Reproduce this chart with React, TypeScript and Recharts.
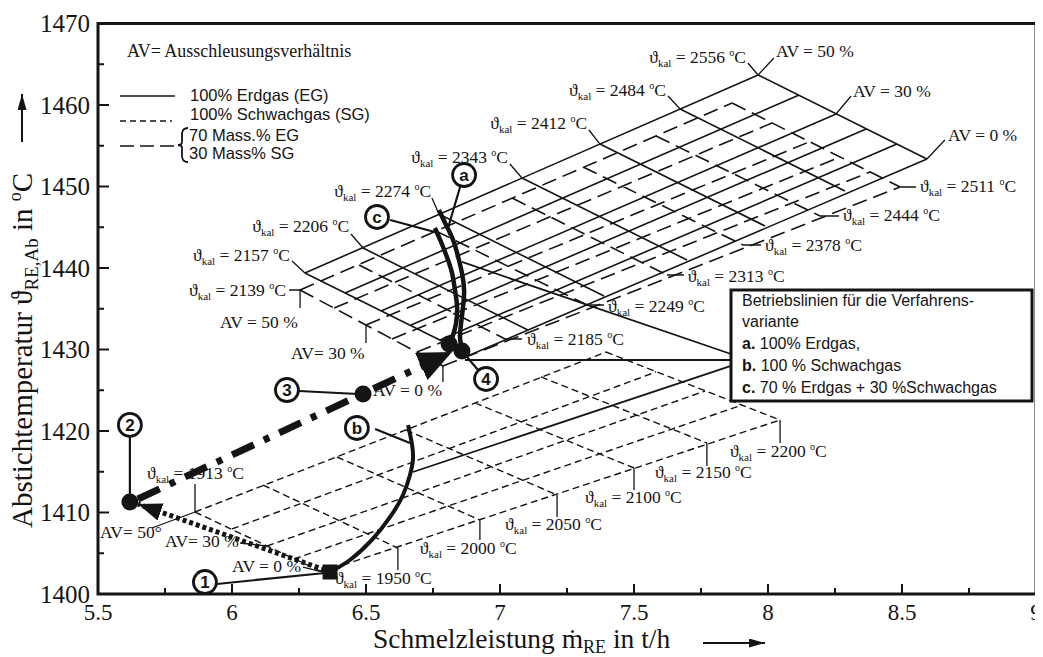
import React from "react";
import { ComposedChart, Line, Scatter, XAxis, YAxis, ReferenceArea } from "recharts";

const SERIF = "'Liberation Serif', 'Times New Roman', 'DejaVu Serif', serif";
const SANS = "'Liberation Sans', Arial, sans-serif";
const INK = "#141414";

const xTicks = [5.5, 5.75, 6, 6.25, 6.5, 6.75, 7, 7.25, 7.5, 7.75, 8, 8.25, 8.5, 8.75, 9];
const yTicks = [1400, 1405, 1410, 1415, 1420, 1425, 1430, 1435, 1440, 1445, 1450, 1455, 1460, 1465, 1470];

// mesh lines as [x1, y1, x2, y2]
// 100% Erdgas (solid)
const gridEG = [
  [6.272, 1439.39, 7.963, 1463.68],
  [6.422, 1436.93, 8.116, 1461.23],
  [6.556, 1434.72, 8.254, 1458.9],
  [6.668, 1433.01, 8.366, 1457.06],
  [6.776, 1431.17, 8.481, 1455.21],
  [6.888, 1429.33, 8.593, 1453.37],
  [6.272, 1439.39, 6.888, 1429.33],
  [6.489, 1442.45, 7.104, 1432.39],
  [6.772, 1446.63, 7.388, 1436.56],
  [7.082, 1451.04, 7.698, 1440.98],
  [7.373, 1455.21, 7.989, 1445.15],
  [7.672, 1459.51, 8.287, 1449.45],
  [7.963, 1463.68, 8.593, 1453.37],
];

// 70 % EG + 30 % SG (long dash)
const gridMix = [
  [6.254, 1437.3, 7.866, 1460.25],
  [6.381, 1435.09, 8.015, 1457.79],
  [6.5, 1433.01, 8.153, 1455.46],
  [6.597, 1431.29, 8.269, 1453.62],
  [6.69, 1429.69, 8.381, 1451.78],
  [6.787, 1427.98, 8.493, 1449.94],
  [6.254, 1437.3, 6.787, 1427.98],
  [6.474, 1440.37, 7.019, 1431.29],
  [6.761, 1444.54, 7.325, 1435.46],
  [7.045, 1448.59, 7.623, 1439.14],
  [7.31, 1452.39, 7.907, 1442.82],
  [7.582, 1456.2, 8.194, 1446.38],
  [7.866, 1460.25, 8.493, 1449.94],
];

// 100% Schwachgas (short dash)
const gridSG = [
  [5.862, 1410.06, 7.396, 1429.69],
  [6.0, 1407.98, 7.582, 1427.24],
  [6.131, 1405.89, 7.765, 1424.91],
  [6.231, 1404.29, 7.903, 1423.19],
  [6.336, 1402.7, 8.045, 1421.35],
  [5.862, 1410.06, 6.336, 1402.7],
  [6.116, 1413.37, 6.619, 1405.64],
  [6.392, 1416.81, 6.925, 1409.08],
  [6.649, 1420.12, 7.213, 1412.15],
  [6.907, 1423.44, 7.5, 1415.46],
  [7.153, 1426.63, 7.772, 1418.53],
  [7.396, 1429.69, 8.045, 1421.35],
];

// leader strokes from the labels to the mesh
const labelLeaders = [
  [6.213, 1437.3, 6.254, 1437.3],
  [6.224, 1440.86, 6.272, 1439.39],
  [6.444, 1444.17, 6.489, 1442.45],
  [6.746, 1448.59, 6.772, 1446.63],
  [7.037, 1452.76, 7.082, 1451.04],
  [7.332, 1456.93, 7.373, 1455.21],
  [7.627, 1461.1, 7.672, 1459.51],
  [7.925, 1465.15, 7.963, 1463.68],
  [7.019, 1431.29, 7.082, 1431.29],
  [7.325, 1435.46, 7.388, 1435.46],
  [7.623, 1439.14, 7.687, 1439.14],
  [7.907, 1442.82, 7.974, 1442.82],
  [8.194, 1446.38, 8.265, 1446.38],
  [8.493, 1449.94, 8.552, 1449.94],
  [7.963, 1463.68, 8.022, 1465.77],
  [8.254, 1458.9, 8.31, 1461.1],
  [8.593, 1453.37, 8.66, 1455.71],
  [6.254, 1437.3, 6.254, 1435.09],
  [6.5, 1433.01, 6.5, 1430.8],
  [6.787, 1427.98, 6.787, 1426.01],
  [5.862, 1413.5, 5.862, 1410.06],
  [5.701, 1408.1, 5.862, 1410.06],
  [6.03, 1406.26, 6.131, 1405.89],
  [6.265, 1403.31, 6.336, 1402.7],
  [6.619, 1405.64, 6.619, 1402.94],
  [6.925, 1409.08, 6.925, 1406.63],
  [7.213, 1412.15, 7.213, 1409.45],
  [7.5, 1415.46, 7.5, 1412.76],
  [7.772, 1418.53, 7.772, 1415.71],
  [8.045, 1421.35, 8.045, 1418.53],
];

const badgeLeaders = [
  [6.851, 1449.94, 6.806, 1444.91],
  [6.59, 1445.89, 6.757, 1444.42],
  [6.25, 1424.91, 6.47, 1424.54],
  [5.619, 1419.26, 5.619, 1411.9],
  [5.944, 1401.23, 6.347, 1402.58],
  [6.918, 1427.48, 6.858, 1429.82],
  [6.534, 1420.25, 6.664, 1418.53],
];

const boxLeaders = [
  [7.862, 1429.45, 6.858, 1440.74],
  [7.862, 1428.71, 6.869, 1428.71],
  [7.862, 1427.98, 6.675, 1414.97],
];

// operating lines a, b, c
const curveA = [
  [6.772, 1447.12], [6.799, 1445.28], [6.825, 1443.44], [6.843, 1441.47], [6.858, 1439.39],
  [6.866, 1437.3], [6.862, 1435.21], [6.854, 1433.01], [6.851, 1431.41], [6.858, 1429.94],
];
const curveC = [
  [6.757, 1444.91], [6.78, 1443.19], [6.802, 1441.35], [6.821, 1439.39], [6.832, 1437.3],
  [6.84, 1435.21], [6.836, 1433.25], [6.825, 1431.78], [6.813, 1430.67],
];
const curveB = [
  [6.366, 1402.7], [6.44, 1404.17], [6.522, 1406.63], [6.59, 1409.45], [6.638, 1412.15],
  [6.664, 1414.6], [6.675, 1416.44], [6.672, 1418.28], [6.657, 1420.74],
];

const dashDotPath = [[5.649, 1411.66], [6.821, 1429.69]];
const dottedPath = [[6.347, 1402.94], [5.649, 1411.04]];

const bigDots = [
  { x: 6.81, y: 1430.67 },
  { x: 6.858, y: 1429.82 },
  { x: 6.489, y: 1424.54 },
  { x: 5.619, y: 1411.29 },
];
const squareDot = [{ x: 6.366, y: 1402.7 }];

const badges = [
  { x: 6.866, y: 1451.41, t: "a" },
  { x: 6.541, y: 1446.26, t: "c" },
  { x: 6.205, y: 1425.03, t: "3" },
  { x: 5.619, y: 1420.74, t: "2" },
  { x: 5.899, y: 1401.47, t: "1" },
  { x: 6.948, y: 1426.38, t: "4" },
  { x: 6.466, y: 1420.37, t: "b" },
];

const kalLeft = [
  { x: 6.201, y: 1436.56, v: 2139 },
  { x: 6.216, y: 1440.86, v: 2157 },
  { x: 6.437, y: 1444.42, v: 2206 },
  { x: 6.743, y: 1448.71, v: 2274 },
  { x: 7.03, y: 1452.88, v: 2343 },
  { x: 7.325, y: 1457.06, v: 2412 },
  { x: 7.619, y: 1461.1, v: 2484 },
  { x: 7.918, y: 1465.15, v: 2556 },
];
const kalRight = [
  { x: 7.101, y: 1430.55, v: 2185 },
  { x: 7.403, y: 1434.6, v: 2249 },
  { x: 7.701, y: 1438.28, v: 2313 },
  { x: 7.989, y: 1442.09, v: 2378 },
  { x: 8.28, y: 1445.77, v: 2444 },
  { x: 8.567, y: 1449.33, v: 2511 },
  { x: 5.683, y: 1414.11, v: 1913 },
  { x: 6.384, y: 1401.23, v: 1950 },
  { x: 6.701, y: 1404.91, v: 2000 },
  { x: 7.019, y: 1407.85, v: 2050 },
  { x: 7.317, y: 1411.17, v: 2100 },
  { x: 7.578, y: 1414.23, v: 2150 },
  { x: 7.858, y: 1416.81, v: 2200 },
];

const avLabels = [
  { x: 8.03, y: 1465.89, t: "AV = 50 %" },
  { x: 8.317, y: 1460.98, t: "AV = 30 %" },
  { x: 8.672, y: 1455.58, t: "AV = 0 %" },
  { x: 5.955, y: 1432.64, t: "AV = 50 %" },
  { x: 6.22, y: 1428.83, t: "AV= 30 %" },
  { x: 6.526, y: 1424.29, t: "AV = 0 %" },
  { x: 5.507, y: 1406.87, t: "AV= 50°" },
  { x: 5.75, y: 1405.77, t: "AV= 30 %" },
  { x: 6.0, y: 1402.7, t: "AV = 0 %" },
];

const segData = (segs: number[][]) =>
  segs.flatMap(([x1, y1, x2, y2]) => [
    { x: x1, y: y1 },
    { x: x2, y: y2 },
    { x: x2, y: null },
  ]);
const pts = (arr: number[][]) => arr.map(([x, y]) => ({ x, y }));

const XTick = (props: any) => {
  const { x, y, payload } = props;
  const v = payload.value as number;
  const major = Number.isInteger(v * 2);
  return (
    <g>
      <line x1={x} x2={x} y1={y} y2={y - (major ? 10 : 6)} stroke={INK} strokeWidth={2} />
      {major && (
        <text x={x} y={y + 26} textAnchor="middle" fontFamily={SERIF} fontSize={23} fill={INK}>
          {v}
        </text>
      )}
    </g>
  );
};

const YTick = (props: any) => {
  const { x, y, payload } = props;
  const v = payload.value as number;
  const major = v % 10 === 0;
  return (
    <g>
      <line x1={x} x2={x + (major ? 11 : 6)} y1={y} y2={y} stroke={INK} strokeWidth={2} />
      {major && (
        <text x={x - 8} y={y} dy="0.35em" textAnchor="end" fontFamily={SERIF} fontSize={25} fill={INK}>
          {v}
        </text>
      )}
    </g>
  );
};

const KalText = ({ cx, cy, v, anchor }: any) => (
  <text x={cx} y={cy} textAnchor={anchor} fontFamily={SERIF} fontSize={17.5} fill={INK} style={{ whiteSpace: "pre" }}>
    ϑ<tspan fontSize={11} dy={4}>kal</tspan>
    <tspan dy={-4}>{` = ${v} `}</tspan>
    <tspan fontSize={10} dy={-7}>o</tspan>
    <tspan dy={7}>C</tspan>
  </text>
);

const Badge = ({ cx, cy, t }: any) => (
  <g>
    <circle cx={cx} cy={cy} r={11.5} fill="#fff" stroke={INK} strokeWidth={2.8} />
    <text x={cx} y={cy} dy="0.36em" textAnchor="middle" fontFamily={SANS} fontWeight="bold" fontSize={17} fill={INK}>
      {t}
    </text>
  </g>
);

const common = {
  dataKey: "y",
  type: "linear" as const,
  stroke: INK,
  dot: false,
  activeDot: false,
  isAnimationActive: false,
  legendType: "none" as const,
};

export default function App() {
  return (
    <div style={{ position: "relative", width: 1035, height: 649, background: "#fff" }}>
      <ComposedChart width={1035} height={641} margin={{ top: 15.5, right: 7, bottom: 0, left: 0 }} style={{ overflow: "visible" }}>
        <XAxis
          type="number"
          dataKey="x"
          domain={[5.5, 9]}
          ticks={xTicks}
          interval={0}
          allowDataOverflow
          height={55}
          tickSize={0}
          tickMargin={0}
          tickLine={false}
          axisLine={false}
          tick={(p: any) => <XTick {...p} />}
        />
        <YAxis
          type="number"
          dataKey="y"
          domain={[1400, 1470]}
          ticks={yTicks}
          interval={0}
          allowDataOverflow
          width={90}
          tickSize={0}
          tickMargin={0}
          tickLine={false}
          axisLine={false}
          tick={(p: any) => <YTick {...p} />}
        />
        <ReferenceArea x1={5.5} x2={9} y1={1400} y2={1470} fill="none" stroke={INK} strokeWidth={3} ifOverflow="visible" />

        <Line {...common} data={segData(gridSG)} strokeWidth={1.4} strokeDasharray="7 4" />
        <Line {...common} data={segData(gridMix)} strokeWidth={1.6} strokeDasharray="15 7" />
        <Line {...common} data={segData(gridEG)} strokeWidth={1.6} />
        <Line {...common} data={segData(labelLeaders)} strokeWidth={1.3} />
        <Line {...common} data={segData(boxLeaders)} strokeWidth={1.8} />
        <Line {...common} data={segData(badgeLeaders)} strokeWidth={2.2} />

        <Scatter data={kalLeft} isAnimationActive={false} legendType="none"
          shape={(p: any) => <KalText cx={p.cx} cy={p.cy} v={p.payload.v} anchor="end" />} />
        <Scatter data={kalRight} isAnimationActive={false} legendType="none"
          shape={(p: any) => <KalText cx={p.cx} cy={p.cy} v={p.payload.v} anchor="start" />} />
        <Scatter data={avLabels} isAnimationActive={false} legendType="none"
          shape={(p: any) => (
            <text x={p.cx} y={p.cy} fontFamily={SERIF} fontSize={17.5} fill={INK} style={{ whiteSpace: "pre" }}>
              {p.payload.t}
            </text>
          )} />

        <Line {...common} data={pts(curveA)} type="natural" strokeWidth={4.5} />
        <Line {...common} data={pts(curveC)} type="natural" strokeWidth={4.5} />
        <Line {...common} data={pts(curveB)} type="natural" strokeWidth={4} />
        <Line {...common} data={pts(dashDotPath)} strokeWidth={7} strokeDasharray="24 11 6 11" markerEnd="url(#arrBig)" />
        <Line {...common} data={pts(dottedPath)} strokeWidth={5} strokeDasharray="4 3" markerEnd="url(#arrSmall)" />

        <Scatter data={bigDots} isAnimationActive={false} legendType="none"
          shape={(p: any) => <circle cx={p.cx} cy={p.cy} r={8.5} fill={INK} />} />
        <Scatter data={squareDot} isAnimationActive={false} legendType="none"
          shape={(p: any) => <rect x={p.cx - 7.5} y={p.cy - 7.5} width={15} height={15} fill={INK} />} />
        <Scatter data={badges} isAnimationActive={false} legendType="none"
          shape={(p: any) => <Badge cx={p.cx} cy={p.cy} t={p.payload.t} />} />
      </ComposedChart>

      <svg width={1043} height={657} style={{ position: "absolute", left: -8, top: -8, pointerEvents: "none" }}>
        <defs>
          <marker id="arrBig" markerUnits="userSpaceOnUse" markerWidth={40} markerHeight={32} refX={34} refY={15} orient="auto">
            <path d="M0,0 L34,15 L0,30 Z" fill={INK} />
          </marker>
          <marker id="arrSmall" markerUnits="userSpaceOnUse" markerWidth={28} markerHeight={22} refX={24} refY={9} orient="auto">
            <path d="M0,0 L24,9 L0,18 Z" fill={INK} />
          </marker>
          <marker id="arrAxis" markerUnits="userSpaceOnUse" markerWidth={18} markerHeight={12} refX={16} refY={4.5} orient="auto">
            <path d="M0,0 L16,4.5 L0,9 Z" fill={INK} />
          </marker>
        </defs>

        {/* axis titles */}
        <text transform="translate(32,528) rotate(-90)" fontFamily={SERIF} fontSize={29} fill={INK} style={{ whiteSpace: "pre" }}>
          Abstichtemperatur ϑ<tspan fontSize={19} dy={6}>RE,Ab</tspan>
          <tspan dy={-6}>{" in "}</tspan>
          <tspan fontSize={18} dy={-11}>o</tspan>
          <tspan dy={11}>C</tspan>
        </text>
        <line x1={22} y1={142} x2={22} y2={94} stroke={INK} strokeWidth={2} markerEnd="url(#arrAxis)" />
        <text x={373} y={648} fontFamily={SERIF} fontSize={27.5} fill={INK} style={{ whiteSpace: "pre" }}>
          Schmelzleistung ṁ<tspan fontSize={18} dy={5}>RE</tspan>
          <tspan dy={-5}>{" in t/h"}</tspan>
        </text>
        <line x1={703} y1={643} x2={765} y2={643} stroke={INK} strokeWidth={2} markerEnd="url(#arrAxis)" />

        {/* line-style key */}
        <text x={127} y={57} fontFamily={SERIF} fontSize={18} fill={INK}>AV= Ausschleusungsverhältnis</text>
        <line x1={120} y1={96} x2={175} y2={96} stroke={INK} strokeWidth={1.6} />
        <text x={190} y={101} fontFamily={SANS} fontSize={16.5} fill={INK}>100% Erdgas (EG)</text>
        <line x1={120} y1={121} x2={172} y2={121} stroke={INK} strokeWidth={1.4} strokeDasharray="6 4" />
        <text x={190} y={120} fontFamily={SANS} fontSize={16.5} fill={INK}>100% Schwachgas (SG)</text>
        <line x1={120} y1={146} x2={178} y2={146} stroke={INK} strokeWidth={1.6} strokeDasharray="14 6" />
        <path d="M188,128 Q181,128 182,137 L182,142 Q182,145 178,145 Q182,145 182,148 L182,153 Q181,162 188,162"
          fill="none" stroke={INK} strokeWidth={1.8} />
        <text x={189} y={141} fontFamily={SANS} fontSize={16.5} fill={INK}>70 Mass.% EG</text>
        <text x={189} y={159} fontFamily={SANS} fontSize={16.5} fill={INK}>30 Mass% SG</text>

        {/* operating-line box */}
        <rect x={731} y={290} width={301} height={111} fill="#fff" stroke={INK} strokeWidth={3} />
        <g fontFamily={SANS} fontSize={16} fill={INK}>
          <text x={742} y={306}>Betriebslinien für die Verfahrens-</text>
          <text x={742} y={327}>variante</text>
          <text x={742} y={349}><tspan fontWeight="bold">a.</tspan> 100% Erdgas,</text>
          <text x={742} y={371}><tspan fontWeight="bold">b.</tspan> 100 % Schwachgas</text>
          <text x={742} y={393}><tspan fontWeight="bold">c.</tspan> 70 % Erdgas + 30 %Schwachgas</text>
        </g>
      </svg>
    </div>
  );
}
